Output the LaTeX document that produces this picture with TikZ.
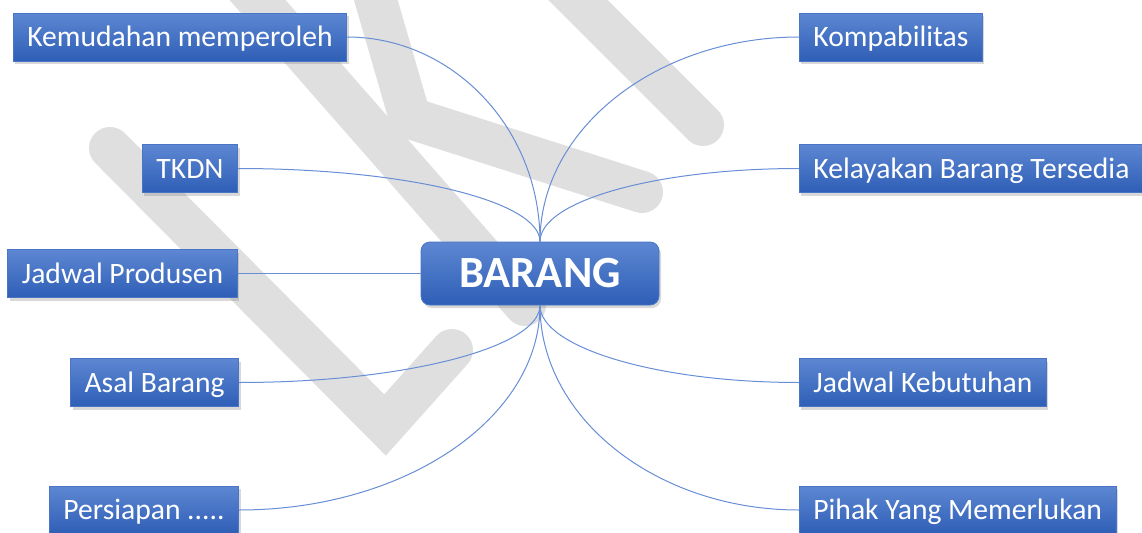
\documentclass[tikz,border=0pt]{standalone}
\usepackage{fontspec}
\setmainfont{Carlito}
\usepackage{tikz}
\usetikzlibrary{positioning, shadows}
\definecolor{boxtop}{RGB}{93,135,210}
\definecolor{boxbot}{RGB}{46,94,182}
\definecolor{boxline}{RGB}{74,116,198}
\definecolor{linkblue}{RGB}{104,142,214}
\definecolor{wmgray}{RGB}{223,223,223}

\begin{document}
\begin{tikzpicture}[
    x=0.5pt, y=0.5pt,
    leaf/.style={rectangle, draw=boxline, line width=0.4pt, top color=boxtop, bottom color=boxbot, text=white, font=\fontsize{14.8}{17}\selectfont, minimum height=24pt, inner xsep=7pt, inner ysep=0pt, text height=9.5pt, text depth=0pt, drop shadow={shadow xshift=1pt, shadow yshift=-1.5pt, opacity=0.3}},
    hub/.style={leaf, rounded corners=4.5pt, font=\fontsize{22.3}{26}\selectfont\bfseries, minimum width=119pt, minimum height=31.5pt, text height=14.4pt},
    link/.style={linkblue, line width=0.5pt},
    wmark/.style={wmgray, line width=21pt, line cap=round, line join=miter},
  ]
  \clip (0,0) rectangle (1142,532);
  \fill[white] (0,0) rectangle (1142,532);

  % watermark
  \draw[wmark] (110,384) -- (385,107) -- (452,182);
  \draw[wmark] (240,552) -- (525,227);
  \draw[wmark] (370,552) -- (410,414) -- (642,340);
  \draw[wmark] (560,550) -- (703,407);

  \node[hub] (barang) at (540,258.5) {BARANG};

  \node[leaf, anchor=east] (mudah) at (347,495) {Kemudahan memperoleh};
  \node[leaf, anchor=east] (tkdn) at (238,363.5) {TKDN};
  \node[leaf, left=91.5pt of barang] (produsen) {Jadwal Produsen};
  \node[leaf, anchor=east] (asal) at (239,149.5) {Asal Barang};
  \node[leaf, anchor=east] (siap) at (239,22) {Persiapan .....};

  \node[leaf, anchor=west] (kompa) at (799,495) {Kompabilitas};
  \node[leaf, anchor=west] (layak) at (799,363.5) {Kelayakan Barang Tersedia};
  \node[leaf, anchor=west] (butuh) at (799,149.5) {Jadwal Kebutuhan};
  \node[leaf, anchor=west] (pihak) at (799,22) {Pihak Yang Memerlukan};

  \draw[link] (barang.north) .. controls +(0,113) and +(106,0) .. (mudah.east);
  \draw[link] (barang.north) .. controls +(0,41) and +(166,0) .. (tkdn.east);
  \draw[link] (barang.west) -- (produsen.east);
  \draw[link] (barang.south) .. controls +(0,-42) and +(166,0) .. (asal.east);
  \draw[link] (barang.south) .. controls +(0,-113) and +(166,0) .. (siap.east);

  \draw[link] (barang.north) .. controls +(0,113) and +(-142,0) .. (kompa.west);
  \draw[link] (barang.north) .. controls +(0,41) and +(-142,0) .. (layak.west);
  \draw[link] (barang.south) .. controls +(0,-42) and +(-142,0) .. (butuh.west);
  \draw[link] (barang.south) .. controls +(0,-113) and +(-142,0) .. (pihak.west);
\end{tikzpicture}
\end{document}
